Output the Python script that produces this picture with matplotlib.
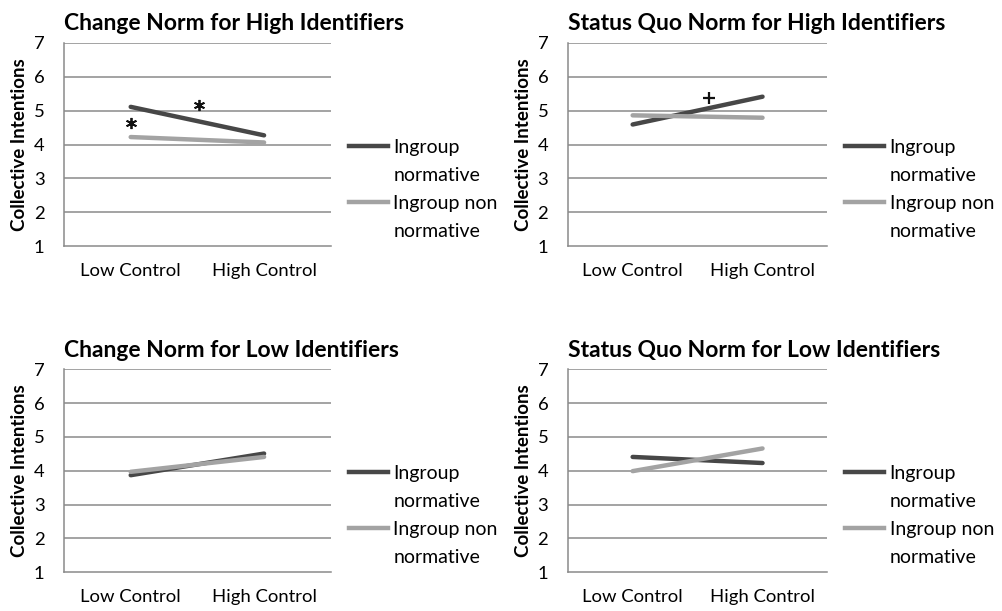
import numpy as np
import matplotlib.pyplot as plt
from matplotlib.lines import Line2D

plt.rcParams['font.family'] = ['Lato', 'DejaVu Sans']

categories = ['Low Control', 'High Control']
titles = ['Change Norm for High Identifiers',
          'Status Quo Norm for High Identifiers',
          'Change Norm for Low Identifiers',
          'Status Quo Norm for Low Identifiers']
normative = [[5.11, 4.27], [4.59, 5.41], [3.87, 4.51], [4.41, 4.23]]
non_normative = [[4.22, 4.06], [4.86, 4.79], [3.97, 4.41], [3.99, 4.66]]
# significance marks: (panel, x, y, symbol)
marks = [(0, 0.0, 4.64, '*'), (0, 0.51, 5.16, '*'), (1, 0.59, 5.36, '+')]

dark = '#474747'
light = '#a3a3a3'
grid_c = '#8a8a8a'

fig = plt.figure(figsize=(10.03, 6.11), dpi=100)
positions = [
    [0.0638, 0.597, 0.266, 0.333],
    [0.566, 0.597, 0.259, 0.333],
    [0.0638, 0.0633, 0.266, 0.3323],
    [0.566, 0.0633, 0.259, 0.3323],
]

axes = []
for i, pos in enumerate(positions):
    ax = fig.add_axes(pos)
    axes.append(ax)
    x = np.arange(len(categories))
    ax.plot(x, normative[i], color=dark, lw=3.2, solid_capstyle='round', zorder=3)
    ax.plot(x, non_normative[i], color=light, lw=3.2, solid_capstyle='round', zorder=3)
    ax.set_xlim(-0.5, 1.5)
    ax.set_ylim(1, 7)
    ax.set_yticks(range(1, 8))
    ax.set_xticks(x)
    ax.set_xticklabels(categories)
    ax.tick_params(axis='both', length=0, labelsize=13.3)
    ax.tick_params(axis='x', pad=12)
    ax.tick_params(axis='y', pad=14)
    for v in range(2, 8):
        ax.axhline(v, color=grid_c, lw=1.1, zorder=1)
    for s in ['top', 'right']:
        ax.spines[s].set_visible(False)
    ax.spines['left'].set_color(grid_c)
    ax.spines['bottom'].set_color(grid_c)
    ax.spines['left'].set_linewidth(1.1)
    ax.spines['bottom'].set_linewidth(1.1)
    ax.set_ylabel('Collective Intentions', fontsize=13.5, fontweight='bold', labelpad=4)
    ax.set_title(titles[i], loc='left', fontsize=16.5, fontweight='bold', pad=9)

    handles = [Line2D([], [], color=dark, lw=3.2),
               Line2D([], [], color='none'),
               Line2D([], [], color=light, lw=3.2),
               Line2D([], [], color='none')]
    labels = ['Ingroup', 'normative', 'Ingroup non', 'normative']
    ax.legend(handles, labels, loc='center left', bbox_to_anchor=(1.067, 0.28),
              frameon=False, fontsize=14, handlelength=2.0, handletextpad=0.3,
              labelspacing=0.56, borderpad=0, borderaxespad=0)

for p, mx, my, sym in marks:
    if sym == '*':
        axes[p].plot(mx, my, marker=(6, 2, 0), ms=8, mew=1.3, color='#111111', zorder=4)
    else:
        axes[p].plot(mx, my, marker='+', ms=9, mew=1.6, color='#111111', zorder=4)

fig.savefig('out.png', dpi=100)
